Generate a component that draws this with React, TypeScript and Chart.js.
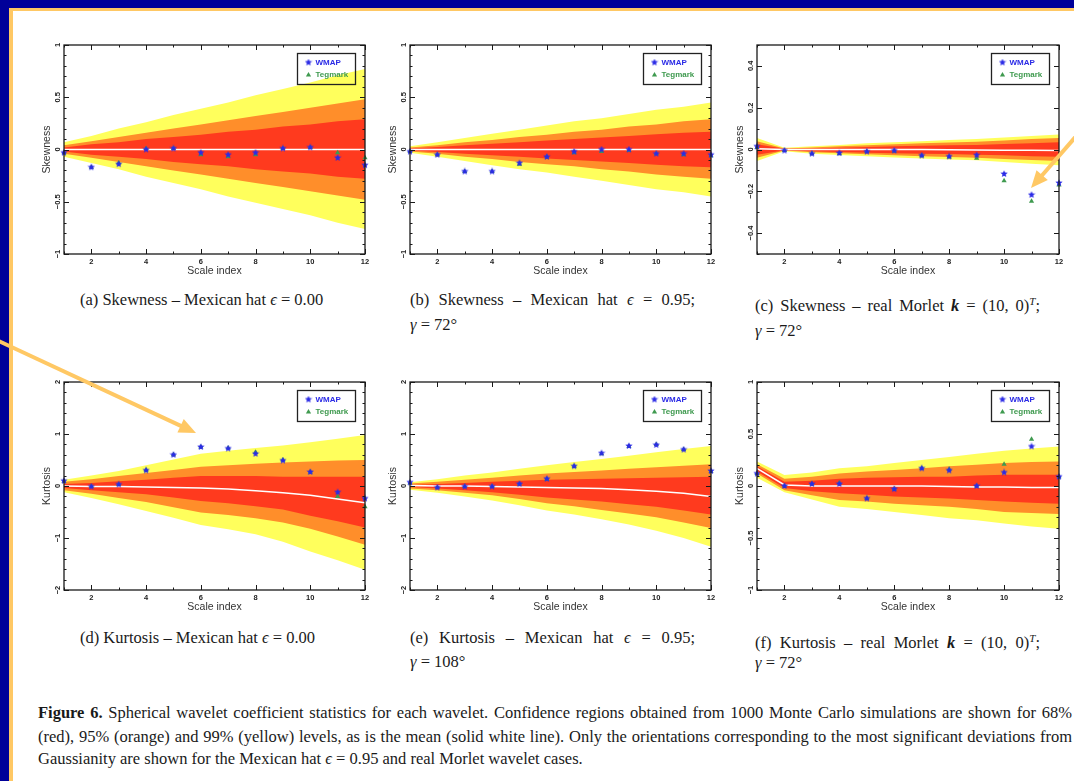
import React, { useEffect, useRef } from "react";
import { Chart, registerables } from "chart.js";

Chart.register(...registerables);

// ---------------- data ----------------
const SCALE_INDEX = [1, 2, 3, 4, 5, 6, 7, 8, 9, 10, 11, 12];
const X_TICKS = [2, 4, 6, 8, 10, 12];

const SKEW_TICKS = [-1, -0.5, 0, 0.5, 1];
const MORLET_SKEW_TICKS = [-0.4, -0.2, 0, 0.2, 0.4];
const KURT_TICKS = [-2, -1, 0, 1, 2];
const MORLET_KURT_TICKS = [-1, -0.5, 0, 0.5, 1];

// (a) Skewness – Mexican hat eps = 0.00
const A_YEL_HI = [0.07, 0.13, 0.2, 0.26, 0.33, 0.39, 0.45, 0.52, 0.58, 0.64, 0.71, 0.77];
const A_ORA_HI = [0.04, 0.08, 0.12, 0.16, 0.2, 0.24, 0.28, 0.32, 0.36, 0.4, 0.44, 0.48];
const A_RED_HI = [0.02, 0.05, 0.07, 0.1, 0.12, 0.14, 0.17, 0.19, 0.22, 0.24, 0.27, 0.29];
const A_RED_LO = [-0.02, -0.05, -0.07, -0.09, -0.12, -0.14, -0.16, -0.19, -0.21, -0.23, -0.26, -0.28];
const A_ORA_LO = [-0.04, -0.08, -0.12, -0.16, -0.2, -0.24, -0.28, -0.32, -0.36, -0.4, -0.44, -0.48];
const A_YEL_LO = [-0.07, -0.13, -0.19, -0.26, -0.32, -0.38, -0.45, -0.51, -0.57, -0.63, -0.7, -0.76];
const A_MEAN = [0, 0, 0, 0, 0, 0, 0, 0, 0, 0, 0, 0];
const A_WMAP = [-0.03, -0.17, -0.14, 0.0, 0.01, -0.03, -0.05, -0.03, 0.01, 0.02, -0.08, -0.15];
const A_TEG = [-0.03, -0.17, -0.13, 0.01, 0.01, -0.05, -0.07, -0.05, 0.01, 0.02, -0.03, -0.08];

// (b) Skewness – Mexican hat eps = 0.95
const B_YEL_HI = [0.03, 0.07, 0.11, 0.15, 0.19, 0.23, 0.27, 0.3, 0.34, 0.38, 0.41, 0.45];
const B_ORA_HI = [0.02, 0.04, 0.07, 0.09, 0.12, 0.14, 0.17, 0.19, 0.22, 0.24, 0.27, 0.29];
const B_RED_HI = [0.01, 0.025, 0.04, 0.055, 0.07, 0.085, 0.1, 0.115, 0.13, 0.145, 0.16, 0.17];
const B_RED_LO = [-0.01, -0.025, -0.04, -0.055, -0.07, -0.085, -0.1, -0.115, -0.13, -0.145, -0.16, -0.17];
const B_ORA_LO = [-0.02, -0.04, -0.07, -0.09, -0.12, -0.14, -0.16, -0.19, -0.21, -0.24, -0.26, -0.28];
const B_YEL_LO = [-0.03, -0.07, -0.11, -0.15, -0.19, -0.22, -0.26, -0.3, -0.34, -0.38, -0.41, -0.45];
const B_MEAN = [0, 0, 0, 0, 0, 0, 0, 0, 0, 0, 0, 0];
const B_WMAP = [-0.02, -0.05, -0.21, -0.21, -0.13, -0.07, -0.02, 0.0, 0.0, -0.04, -0.04, -0.05];
const B_TEG = [-0.02, -0.05, -0.21, -0.21, -0.14, -0.07, -0.03, -0.02, -0.01, -0.04, -0.05, -0.06];

// (c) Skewness – real Morlet
const C_YEL_HI = [0.055, 0.008, 0.015, 0.022, 0.03, 0.035, 0.04, 0.045, 0.05, 0.058, 0.065, 0.072];
const C_ORA_HI = [0.04, 0.005, 0.01, 0.015, 0.02, 0.025, 0.03, 0.033, 0.037, 0.043, 0.05, 0.055];
const C_RED_HI = [0.025, 0.003, 0.005, 0.008, 0.012, 0.015, 0.018, 0.02, 0.022, 0.026, 0.03, 0.035];
const C_RED_LO = [-0.025, -0.003, -0.008, -0.012, -0.015, -0.018, -0.02, -0.022, -0.025, -0.028, -0.032, -0.035];
const C_ORA_LO = [-0.04, -0.005, -0.013, -0.018, -0.023, -0.028, -0.032, -0.036, -0.04, -0.045, -0.05, -0.055];
const C_YEL_LO = [-0.055, -0.008, -0.02, -0.026, -0.032, -0.038, -0.043, -0.048, -0.052, -0.06, -0.068, -0.075];
const C_MEAN = [0.004, 0, 0, 0, 0, 0, 0, -0.001, -0.002, -0.003, -0.004, -0.005];
const C_WMAP = [0.015, -0.005, -0.02, -0.017, -0.01, -0.005, -0.029, -0.033, -0.027, -0.117, -0.217, -0.16];
const C_TEG = [0.01, -0.005, -0.02, -0.02, -0.01, -0.007, -0.03, -0.036, -0.042, -0.15, -0.248, -0.17];

// (d) Kurtosis – Mexican hat eps = 0.00
const D_YEL_HI = [0.12, 0.2, 0.29, 0.4, 0.51, 0.62, 0.68, 0.73, 0.78, 0.84, 0.91, 0.98];
const D_ORA_HI = [0.08, 0.13, 0.19, 0.25, 0.31, 0.37, 0.4, 0.43, 0.45, 0.47, 0.49, 0.5];
const D_RED_HI = [0.04, 0.06, 0.09, 0.12, 0.16, 0.19, 0.19, 0.19, 0.18, 0.18, 0.18, 0.18];
const D_RED_LO = [-0.04, -0.08, -0.12, -0.16, -0.22, -0.29, -0.33, -0.39, -0.45, -0.57, -0.68, -0.8];
const D_ORA_LO = [-0.08, -0.15, -0.23, -0.31, -0.41, -0.51, -0.56, -0.62, -0.7, -0.82, -0.97, -1.13];
const D_YEL_LO = [-0.12, -0.23, -0.35, -0.48, -0.61, -0.75, -0.83, -0.93, -1.07, -1.26, -1.43, -1.61];
const D_MEAN = [0.0, -0.01, -0.01, -0.02, -0.03, -0.04, -0.06, -0.09, -0.13, -0.18, -0.25, -0.32];
const D_WMAP = [0.1, -0.01, 0.03, 0.3, 0.6, 0.75, 0.72, 0.62, 0.49, 0.27, -0.12, -0.24];
const D_TEG = [0.09, -0.01, 0.03, 0.31, 0.6, 0.75, 0.73, 0.65, 0.5, 0.27, -0.2, -0.4];

// (e) Kurtosis – Mexican hat eps = 0.95
const E_YEL_HI = [0.07, 0.13, 0.2, 0.26, 0.33, 0.4, 0.46, 0.52, 0.58, 0.65, 0.71, 0.77];
const E_ORA_HI = [0.05, 0.08, 0.12, 0.16, 0.2, 0.24, 0.27, 0.3, 0.33, 0.36, 0.39, 0.42];
const E_RED_HI = [0.02, 0.04, 0.06, 0.08, 0.1, 0.12, 0.13, 0.14, 0.15, 0.16, 0.17, 0.18];
const E_RED_LO = [-0.02, -0.05, -0.08, -0.12, -0.17, -0.22, -0.26, -0.3, -0.35, -0.4, -0.47, -0.55];
const E_ORA_LO = [-0.05, -0.08, -0.13, -0.18, -0.25, -0.33, -0.39, -0.46, -0.53, -0.6, -0.7, -0.81];
const E_YEL_LO = [-0.07, -0.13, -0.2, -0.28, -0.37, -0.47, -0.55, -0.64, -0.74, -0.86, -1.0, -1.17];
const E_MEAN = [0.01, 0, 0, -0.01, -0.02, -0.03, -0.04, -0.05, -0.07, -0.1, -0.14, -0.2];
const E_WMAP = [0.07, -0.03, -0.01, -0.01, 0.04, 0.14, 0.38, 0.63, 0.77, 0.79, 0.7, 0.29];
const E_TEG = [0.06, -0.03, -0.01, -0.01, 0.04, 0.13, 0.38, 0.62, 0.76, 0.8, 0.7, 0.28];

// (f) Kurtosis – real Morlet
const F_YEL_HI = [0.235, 0.105, 0.13, 0.17, 0.19, 0.22, 0.25, 0.28, 0.31, 0.34, 0.36, 0.38];
const F_ORA_HI = [0.21, 0.07, 0.09, 0.12, 0.14, 0.155, 0.17, 0.19, 0.205, 0.22, 0.23, 0.235];
const F_RED_HI = [0.19, 0.04, 0.05, 0.07, 0.08, 0.085, 0.09, 0.09, 0.1, 0.107, 0.107, 0.107];
const F_RED_LO = [0.14, -0.02, -0.05, -0.07, -0.085, -0.1, -0.11, -0.12, -0.135, -0.15, -0.16, -0.17];
const F_ORA_LO = [0.12, -0.04, -0.09, -0.135, -0.15, -0.17, -0.185, -0.2, -0.22, -0.25, -0.26, -0.27];
const F_YEL_LO = [0.08, -0.06, -0.13, -0.2, -0.22, -0.25, -0.28, -0.31, -0.33, -0.36, -0.39, -0.41];
const F_MEAN = [0.17, 0.01, 0.0, 0.0, 0.0, 0.0, 0.0, -0.005, -0.01, -0.01, -0.015, -0.015];
const F_WMAP = [0.12, 0.0, 0.02, 0.02, -0.12, -0.03, 0.17, 0.15, 0.0, 0.13, 0.38, 0.09];
const F_TEG = [0.12, 0.0, 0.02, 0.03, -0.12, -0.03, 0.17, 0.16, 0.0, 0.21, 0.45, 0.09];

// ---------------- styles ----------------
const YELLOW = "rgb(255,255,92)";
const ORANGE = "rgb(255,142,42)";
const RED = "rgb(255,58,30)";
const STAR_BLUE = "#2b2be6";
const TRI_GREEN = "#3f9a4f";
const FRAME = "#1a1a1a";
const SANS = "Liberation Sans";
const SERIF = "'Liberation Serif', 'Times New Roman', serif";
const TICK_FONT = { family: SANS, size: 7.5, weight: "bold" as const };
const TITLE_FONT = { family: SANS, size: 10.5 };

type Rect = { l: number; t: number; r: number; b: number };

type PanelSpec = {
  key: string;
  yTitle: string;
  yMin: number;
  yMax: number;
  yTicks: number[];
  yMinorStep: number;
  bands: number[][]; // yelHi, oraHi, redHi, redLo, oraLo, yelLo
  mean: number[];
  wmap: number[];
  teg: number[];
  rect: Rect;
};

const PANELS: PanelSpec[] = [
  { key: "a", yTitle: "Skewness", yMin: -1, yMax: 1, yTicks: SKEW_TICKS, yMinorStep: 0.1,
    bands: [A_YEL_HI, A_ORA_HI, A_RED_HI, A_RED_LO, A_ORA_LO, A_YEL_LO], mean: A_MEAN, wmap: A_WMAP, teg: A_TEG,
    rect: { l: 64, t: 45, r: 365, b: 254 } },
  { key: "b", yTitle: "Skewness", yMin: -1, yMax: 1, yTicks: SKEW_TICKS, yMinorStep: 0.1,
    bands: [B_YEL_HI, B_ORA_HI, B_RED_HI, B_RED_LO, B_ORA_LO, B_YEL_LO], mean: B_MEAN, wmap: B_WMAP, teg: B_TEG,
    rect: { l: 410, t: 45, r: 711, b: 254 } },
  { key: "c", yTitle: "Skewness", yMin: -0.5, yMax: 0.5, yTicks: MORLET_SKEW_TICKS, yMinorStep: 0.1,
    bands: [C_YEL_HI, C_ORA_HI, C_RED_HI, C_RED_LO, C_ORA_LO, C_YEL_LO], mean: C_MEAN, wmap: C_WMAP, teg: C_TEG,
    rect: { l: 757, t: 45, r: 1059, b: 254 } },
  { key: "d", yTitle: "Kurtosis", yMin: -2, yMax: 2, yTicks: KURT_TICKS, yMinorStep: 0.2,
    bands: [D_YEL_HI, D_ORA_HI, D_RED_HI, D_RED_LO, D_ORA_LO, D_YEL_LO], mean: D_MEAN, wmap: D_WMAP, teg: D_TEG,
    rect: { l: 64, t: 382, r: 365, b: 590 } },
  { key: "e", yTitle: "Kurtosis", yMin: -2, yMax: 2, yTicks: KURT_TICKS, yMinorStep: 0.2,
    bands: [E_YEL_HI, E_ORA_HI, E_RED_HI, E_RED_LO, E_ORA_LO, E_YEL_LO], mean: E_MEAN, wmap: E_WMAP, teg: E_TEG,
    rect: { l: 410, t: 382, r: 711, b: 590 } },
  { key: "f", yTitle: "Kurtosis", yMin: -1, yMax: 1, yTicks: MORLET_KURT_TICKS, yMinorStep: 0.1,
    bands: [F_YEL_HI, F_ORA_HI, F_RED_HI, F_RED_LO, F_ORA_LO, F_YEL_LO], mean: F_MEAN, wmap: F_WMAP, teg: F_TEG,
    rect: { l: 757, t: 382, r: 1059, b: 590 } },
];

const Y_AXIS_W = 23;
const X_AXIS_H = 23;
const PAD_TOP = 10;
const PAD_RIGHT = 10;

function fmt(v: number): string {
  if (Math.abs(v) < 1e-9) return "0";
  const s = String(Math.round(v * 100) / 100);
  return s.replace("-", "\u2212");
}

function pts(values: number[]) {
  return SCALE_INDEX.map((x, i) => ({ x, y: values[i] }));
}

function makeStar(color: string, size: number) {
  const c = document.createElement("canvas");
  c.width = size;
  c.height = size;
  const g = c.getContext("2d")!;
  const cx = size / 2, cy = size / 2, R = size / 2 - 0.2, r = R * 0.45;
  g.beginPath();
  for (let i = 0; i < 10; i++) {
    const ang = -Math.PI / 2 + (i * Math.PI) / 5;
    const rad = i % 2 === 0 ? R : r;
    const px = cx + rad * Math.cos(ang), py = cy + rad * Math.sin(ang);
    if (i === 0) g.moveTo(px, py); else g.lineTo(px, py);
  }
  g.closePath();
  g.fillStyle = color;
  g.fill();
  return c;
}

function measureWidest(labels: string[]) {
  const c = document.createElement("canvas").getContext("2d")!;
  c.font = `bold ${TICK_FONT.size}px ${SANS}`;
  return Math.max(...labels.map((s) => c.measureText(s).width));
}

function framePlugin(spec: PanelSpec, star: HTMLCanvasElement) {
  return {
    id: "frame_" + spec.key,
    afterDatasetsDraw(chart: any) {
      const { ctx, chartArea } = chart;
      const { left, right, top, bottom } = chartArea;
      const xs = chart.scales.x, ys = chart.scales.y;
      const MAJOR = 5, MINOR = 2.5;
      ctx.save();
      ctx.strokeStyle = FRAME;
      ctx.lineWidth = 1;
      ctx.beginPath();
      for (const v of SCALE_INDEX) {
        const px = Math.round(xs.getPixelForValue(v)) + 0.5;
        const len = X_TICKS.includes(v) ? MAJOR : MINOR;
        ctx.moveTo(px, bottom); ctx.lineTo(px, bottom - len);
        ctx.moveTo(px, top); ctx.lineTo(px, top + len);
      }
      const n = Math.round((spec.yMax - spec.yMin) / spec.yMinorStep);
      for (let i = 0; i <= n; i++) {
        const v = spec.yMin + i * spec.yMinorStep;
        const py = Math.round(ys.getPixelForValue(v)) + 0.5;
        const len = spec.yTicks.some((t) => Math.abs(t - v) < 1e-6) ? MAJOR : MINOR;
        ctx.moveTo(left, py); ctx.lineTo(left + len, py);
        ctx.moveTo(right, py); ctx.lineTo(right - len, py);
      }
      ctx.stroke();
      ctx.lineWidth = 1.3;
      ctx.strokeRect(left, top, right - left, bottom - top);

      // legend box
      const lw = 58, lh = 31;
      const lx = Math.round(right - 10 - lw) + 0.5, ly = Math.round(top + 8) + 0.5;
      ctx.lineWidth = 1.3;
      ctx.strokeStyle = "#222";
      ctx.strokeRect(lx, ly, lw, lh);
      ctx.drawImage(star, lx + 11 - star.width / 2, ly + 9 - star.height / 2);
      ctx.fillStyle = TRI_GREEN;
      ctx.beginPath();
      ctx.moveTo(lx + 11, ly + 18.5);
      ctx.lineTo(lx + 13.6, ly + 23);
      ctx.lineTo(lx + 8.4, ly + 23);
      ctx.closePath();
      ctx.fill();
      ctx.font = `bold 8px ${SANS}`;
      ctx.textBaseline = "middle";
      ctx.textAlign = "left";
      ctx.fillStyle = STAR_BLUE;
      ctx.fillText("WMAP", lx + 18, ly + 9.5);
      ctx.fillStyle = TRI_GREEN;
      ctx.fillText("Tegmark", lx + 18, ly + 21.5);
      ctx.restore();
    },
  };
}

function ChartPanel({ spec }: { spec: PanelSpec }) {
  const ref = useRef<HTMLCanvasElement>(null);
  const { rect } = spec;
  const w = rect.r - rect.l + Y_AXIS_W + PAD_RIGHT;
  const h = rect.b - rect.t + PAD_TOP + X_AXIS_H;

  useEffect(() => {
    const canvas = ref.current!;
    const star = makeStar(STAR_BLUE, 8);
    const widest = measureWidest(spec.yTicks.map(fmt));
    const [yHi, oHi, rHi, rLo, oLo, yLo] = spec.bands;
    const band = (data: number[], fill: any, color: string, order: number) => ({
      data: pts(data),
      fill,
      backgroundColor: color,
      borderColor: "transparent",
      borderWidth: 0,
      pointRadius: 0,
      tension: 0,
      order,
    });
    const chart = new Chart(canvas, {
      type: "line",
      data: {
        datasets: [
          band(yHi, "+1", YELLOW, 30),
          band(yLo, false, YELLOW, 30),
          band(oHi, "+1", ORANGE, 20),
          band(oLo, false, ORANGE, 20),
          band(rHi, "+1", RED, 10),
          band(rLo, false, RED, 10),
          {
            data: pts(spec.mean),
            borderColor: "#ffffff",
            borderWidth: 1.5,
            pointRadius: 0,
            fill: false,
            tension: 0,
            order: 5,
          },
          {
            data: pts(spec.teg),
            showLine: false,
            pointStyle: "triangle",
            pointRadius: 3,
            backgroundColor: TRI_GREEN,
            borderColor: TRI_GREEN,
            borderWidth: 0,
            clip: false,
            order: 2,
          },
          {
            data: pts(spec.wmap),
            showLine: false,
            pointStyle: star,
            pointRadius: 4,
            clip: false,
            order: 1,
          },
        ] as any,
      },
      options: {
        animation: false,
        responsive: false,
        maintainAspectRatio: false,
        events: [],
        layout: { padding: { top: PAD_TOP, right: PAD_RIGHT, left: 0, bottom: 0 } },
        plugins: { legend: { display: false }, tooltip: { enabled: false } },
        scales: {
          x: {
            type: "linear",
            min: 1,
            max: 12,
            grid: { display: false, drawTicks: false },
            border: { display: false },
            afterBuildTicks: (s: any) => {
              s.ticks = X_TICKS.map((v) => ({ value: v }));
            },
            afterFit: (s: any) => {
              s.height = X_AXIS_H;
            },
            ticks: {
              font: TICK_FONT,
              color: "#222",
              padding: 3,
              autoSkip: false,
              maxRotation: 0,
              minRotation: 0,
              callback: (v: any) => fmt(Number(v)),
            },
            title: { display: true, text: "Scale index", font: TITLE_FONT, color: "#333", padding: 0 },
          },
          y: {
            type: "linear",
            min: spec.yMin,
            max: spec.yMax,
            grid: { display: false, drawTicks: false },
            border: { display: false },
            afterBuildTicks: (s: any) => {
              s.ticks = spec.yTicks.map((v) => ({ value: v }));
            },
            afterFit: (s: any) => {
              s.width = Y_AXIS_W;
            },
            ticks: {
              font: TICK_FONT,
              color: "#222",
              padding: 6 - widest / 2,
              autoSkip: false,
              minRotation: 90,
              maxRotation: 90,
              crossAlign: "center",
              callback: (v: any) => fmt(Number(v)),
            },
            title: { display: true, text: spec.yTitle, font: TITLE_FONT, color: "#333", padding: 0 },
          },
        },
      } as any,
      plugins: [framePlugin(spec, star)],
    });
    return () => chart.destroy();
  }, []);

  return (
    <canvas
      ref={ref}
      width={w}
      height={h}
      style={{ position: "absolute", left: rect.l - Y_AXIS_W, top: rect.t - PAD_TOP, width: w, height: h }}
    />
  );
}

function Arrow({ x1, y1, x2, y2 }: { x1: number; y1: number; x2: number; y2: number }) {
  const dx = x2 - x1, dy = y2 - y1;
  const len = Math.hypot(dx, dy);
  const ux = dx / len, uy = dy / len;
  const px = -uy, py = ux;
  const headL = 17, headW = 7.5;
  const bx = x2 - ux * headL, by = y2 - uy * headL;
  const color = "#FFC864";
  return (
    <g>
      <line x1={x1} y1={y1} x2={bx + ux * 2} y2={by + uy * 2} stroke={color} strokeWidth={4} />
      <polygon
        points={`${x2},${y2} ${bx + px * headW},${by + py * headW} ${bx - px * headW},${by - py * headW}`}
        fill={color}
      />
    </g>
  );
}

const capStyle: React.CSSProperties = {
  position: "absolute",
  fontFamily: SERIF,
  fontSize: 16.5,
  lineHeight: "24px",
  color: "#1a1a1a",
  whiteSpace: "nowrap",
};

const justStyle = (left: number, top: number, width: number): React.CSSProperties => ({
  ...capStyle,
  left,
  top,
  width,
  textAlign: "justify",
  textAlignLast: "justify" as any,
});

const Eps = () => <span style={{ fontStyle: "italic" }}>{"\u03F5"}</span>;
const Gam = () => <span style={{ fontStyle: "italic" }}>{"\u03B3"}</span>;
const KVec = () => (
  <span>
    <b><i>k</i></b> = (10, 0)<sup style={{ fontStyle: "italic", fontSize: 11, lineHeight: 0 }}>T</sup>;
  </span>
);

export default function App() {
  return (
    <div
      style={{
        position: "absolute",
        left: 0,
        top: 0,
        width: 1074,
        height: 781,
        overflow: "hidden",
        background: "#ffffff",
      }}
    >
      {/* slide border */}
      <div style={{ position: "absolute", left: 0, top: 0, width: 1074, height: 8, background: "#000099" }} />
      <div style={{ position: "absolute", left: 0, top: 0, width: 9, height: 781, background: "#000099" }} />
      <div style={{ position: "absolute", left: 9, top: 8, width: 1065, height: 3, background: "#FFC864" }} />
      <div style={{ position: "absolute", left: 9, top: 8, width: 4, height: 773, background: "#FFC864" }} />

      {PANELS.map((p) => (
        <ChartPanel key={p.key} spec={p} />
      ))}

      {/* sub-captions */}
      <div style={{ ...capStyle, left: 80, top: 288 }}>
        (a) Skewness – Mexican hat <Eps /> = 0.00
      </div>
      <div style={justStyle(410, 288, 285)}>
        (b) Skewness – Mexican hat <Eps /> = 0.95;
      </div>
      <div style={{ ...capStyle, left: 410, top: 313 }}>
        <Gam /> = 72°
      </div>
      <div style={justStyle(755, 294, 285)}>
        (c) Skewness – real Morlet <KVec />
      </div>
      <div style={{ ...capStyle, left: 755, top: 319 }}>
        <Gam /> = 72°
      </div>

      <div style={{ ...capStyle, left: 80, top: 626 }}>
        (d) Kurtosis – Mexican hat <Eps /> = 0.00
      </div>
      <div style={justStyle(410, 626, 285)}>
        (e) Kurtosis – Mexican hat <Eps /> = 0.95;
      </div>
      <div style={{ ...capStyle, left: 410, top: 650 }}>
        <Gam /> = 108°
      </div>
      <div style={justStyle(755, 631, 285)}>
        (f) Kurtosis – real Morlet <KVec />
      </div>
      <div style={{ ...capStyle, left: 755, top: 651 }}>
        <Gam /> = 72°
      </div>

      {/* figure caption */}
      <div style={justStyle(38, 701, 1034)}>
        <b>Figure 6.</b> Spherical wavelet coefficient statistics for each wavelet. Confidence regions obtained from
        1000 Monte Carlo simulations are shown for 68%
      </div>
      <div style={justStyle(38, 725, 1034)}>
        (red), 95% (orange) and 99% (yellow) levels, as is the mean (solid white line). Only the orientations
        corresponding to the most significant deviations from
      </div>
      <div style={{ ...capStyle, left: 38, top: 747 }}>
        Gaussianity are shown for the Mexican hat <Eps /> = 0.95 and real Morlet wavelet cases.
      </div>

      {/* annotation arrows */}
      <svg
        width={1074}
        height={781}
        style={{ position: "absolute", left: 0, top: 0, pointerEvents: "none" }}
      >
        <Arrow x1={-12} y1={336} x2={196} y2={433} />
        <Arrow x1={1092} y1={118} x2={1031} y2={188} />
      </svg>
    </div>
  );
}
